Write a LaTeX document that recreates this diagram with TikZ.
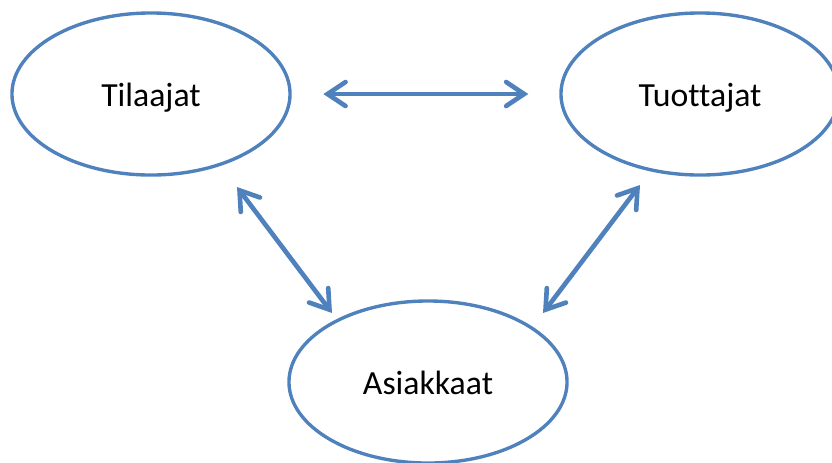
\documentclass[tikz,border=0pt]{standalone}
\usepackage{fontspec}
\setmainfont{Carlito}[Ligatures=NoCommon]
\usetikzlibrary{shapes.geometric,arrows.meta}
\definecolor{officeblue}{RGB}{79,129,189}
\begin{document}
\begin{tikzpicture}[x=0.025cm,y=-0.025cm,
		party/.style={ellipse,draw=officeblue,line width=2.4pt,inner sep=0pt,
			minimum width=6.95cm,minimum height=4.05cm,
			text height=23pt,text depth=5pt,
			font=\fontsize{24}{28}\selectfont},
		link/.style={officeblue,line width=3.3pt,line cap=round,
			{Straight Barb[length=0.45cm,width=0.6cm,line cap=round]}-{Straight Barb[length=0.45cm,width=0.6cm,line cap=round]}}]
		\useasboundingbox (0,0) rectangle (832,462);
		\clip (0,0) rectangle (832,462);
		%
		\node[party] (til) at (151,94) {Tilaajat};
		\node[party] (tuo) at (700,94) {Tuottajat};
		\node[party] (asi) at (428,382) {Asiakkaat};
		%
		\coordinate (tila) at (237,187);   \coordinate (asil) at (332,313);
		\coordinate (tuoa) at (640,185);   \coordinate (asir) at (543,313);
		%
		\draw[link,shorten <=22.5pt,shorten >=22pt] (til) -- (tuo);
		\draw[link] (tila) -- (asil);
		\draw[link] (tuoa) -- (asir);
		%
\end{tikzpicture}
\end{document}
